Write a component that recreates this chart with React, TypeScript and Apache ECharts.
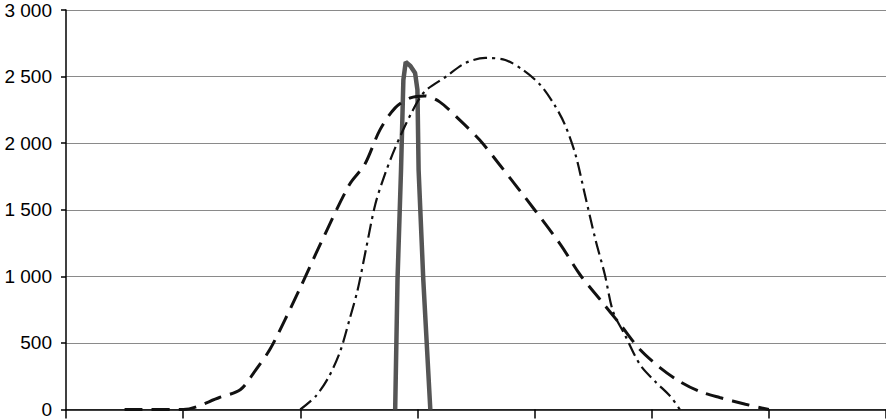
import React, { useEffect, useRef } from "react";
import * as echarts from "echarts";

const yTicks = [0, 500, 1000, 1500, 2000, 2500, 3000];

const seriesLongDash: [number, number][] = [
  [0.5, 0], [1.0, 0], [1.31, 90], [1.49, 150], [1.61, 285], [1.74, 450], [1.87, 675],
  [2.0, 915], [2.17, 1240], [2.42, 1690], [2.55, 1840], [2.68, 2100], [2.81, 2265],
  [2.94, 2340], [3.06, 2355], [3.19, 2310], [3.36, 2175], [3.53, 2025], [3.7, 1840],
  [4.0, 1500], [4.22, 1240], [4.39, 1010], [4.56, 825], [4.73, 640], [4.9, 450],
  [5.07, 315], [5.24, 210], [5.41, 135], [5.58, 90], [5.8, 40], [6.0, 0],
];

const seriesDashDot: [number, number][] = [
  [2.0, 0], [2.13, 98], [2.24, 240], [2.34, 435], [2.42, 675], [2.49, 900], [2.56, 1200],
  [2.64, 1540], [2.72, 1760], [2.81, 1965], [2.94, 2212], [3.06, 2385], [3.24, 2497],
  [3.41, 2602], [3.58, 2640], [3.75, 2625], [3.9, 2550], [4.05, 2437], [4.17, 2287],
  [4.26, 2137], [4.35, 1912], [4.43, 1612], [4.52, 1275], [4.6, 1012], [4.67, 735],
  [4.77, 562], [4.9, 337], [5.03, 210], [5.16, 98], [5.24, 0],
];

const seriesSpike: [number, number][] = [
  [2.81, 0], [2.83, 975], [2.86, 1800], [2.88, 2475], [2.9, 2610], [2.94, 2580],
  [2.98, 2527], [3.0, 2400], [3.01, 1800], [3.05, 975], [3.11, 0],
];

const fmt = (v: number) => {
  const s = String(Math.round(v));
  return s.replace(/\B(?=(\d{3})+(?!\d))/g, " ");
};

export default function App() {
  const ref = useRef<HTMLDivElement>(null);
  useEffect(() => {
    if (!ref.current) return;
    const chart = echarts.init(ref.current, null, { renderer: "svg" });
    chart.setOption({
      animation: false,
      backgroundColor: "#ffffff",
      grid: { left: 66, right: 0, top: 10, bottom: 9, containLabel: false },
      xAxis: {
        type: "value",
        min: 0,
        max: 7,
        interval: 1,
        axisLine: { show: true, onZero: false, lineStyle: { color: "#000", width: 1.5 } },
        axisTick: { show: true, length: 9, lineStyle: { color: "#000", width: 1.5 } },
        axisLabel: { show: false },
        splitLine: { show: false },
      },
      yAxis: {
        type: "value",
        min: yTicks[0],
        max: yTicks[yTicks.length - 1],
        interval: 500,
        axisLine: { show: true, lineStyle: { color: "#000", width: 1.5 } },
        axisTick: { show: true, length: 5, lineStyle: { color: "#000", width: 1.5 } },
        axisLabel: {
          margin: 14,
          color: "#000",
          fontFamily: "Liberation Sans",
          fontSize: 19,
          formatter: (v: number) => fmt(v),
        },
        splitLine: { show: true, lineStyle: { color: "#8a8a8a", width: 1 } },
      },
      series: [
        {
          type: "line",
          data: seriesSpike,
          showSymbol: false,
          smooth: false,
          lineStyle: { color: "#555555", width: 4.5 },
          z: 2,
        },
        {
          type: "line",
          data: seriesDashDot,
          showSymbol: false,
          smooth: 0.3,
          lineStyle: { color: "#111111", width: 2.2, type: [14, 5, 3, 5] },
          z: 3,
        },
        {
          type: "line",
          data: seriesLongDash,
          showSymbol: false,
          smooth: 0.3,
          lineStyle: { color: "#111111", width: 3, type: [18, 9] },
          z: 4,
        },
      ],
    });
    return () => chart.dispose();
  }, []);
  return (
    <div
      ref={ref}
      style={{ position: "fixed", left: 0, top: 0, width: 886, height: 419, background: "#fff" }}
    />
  );
}
